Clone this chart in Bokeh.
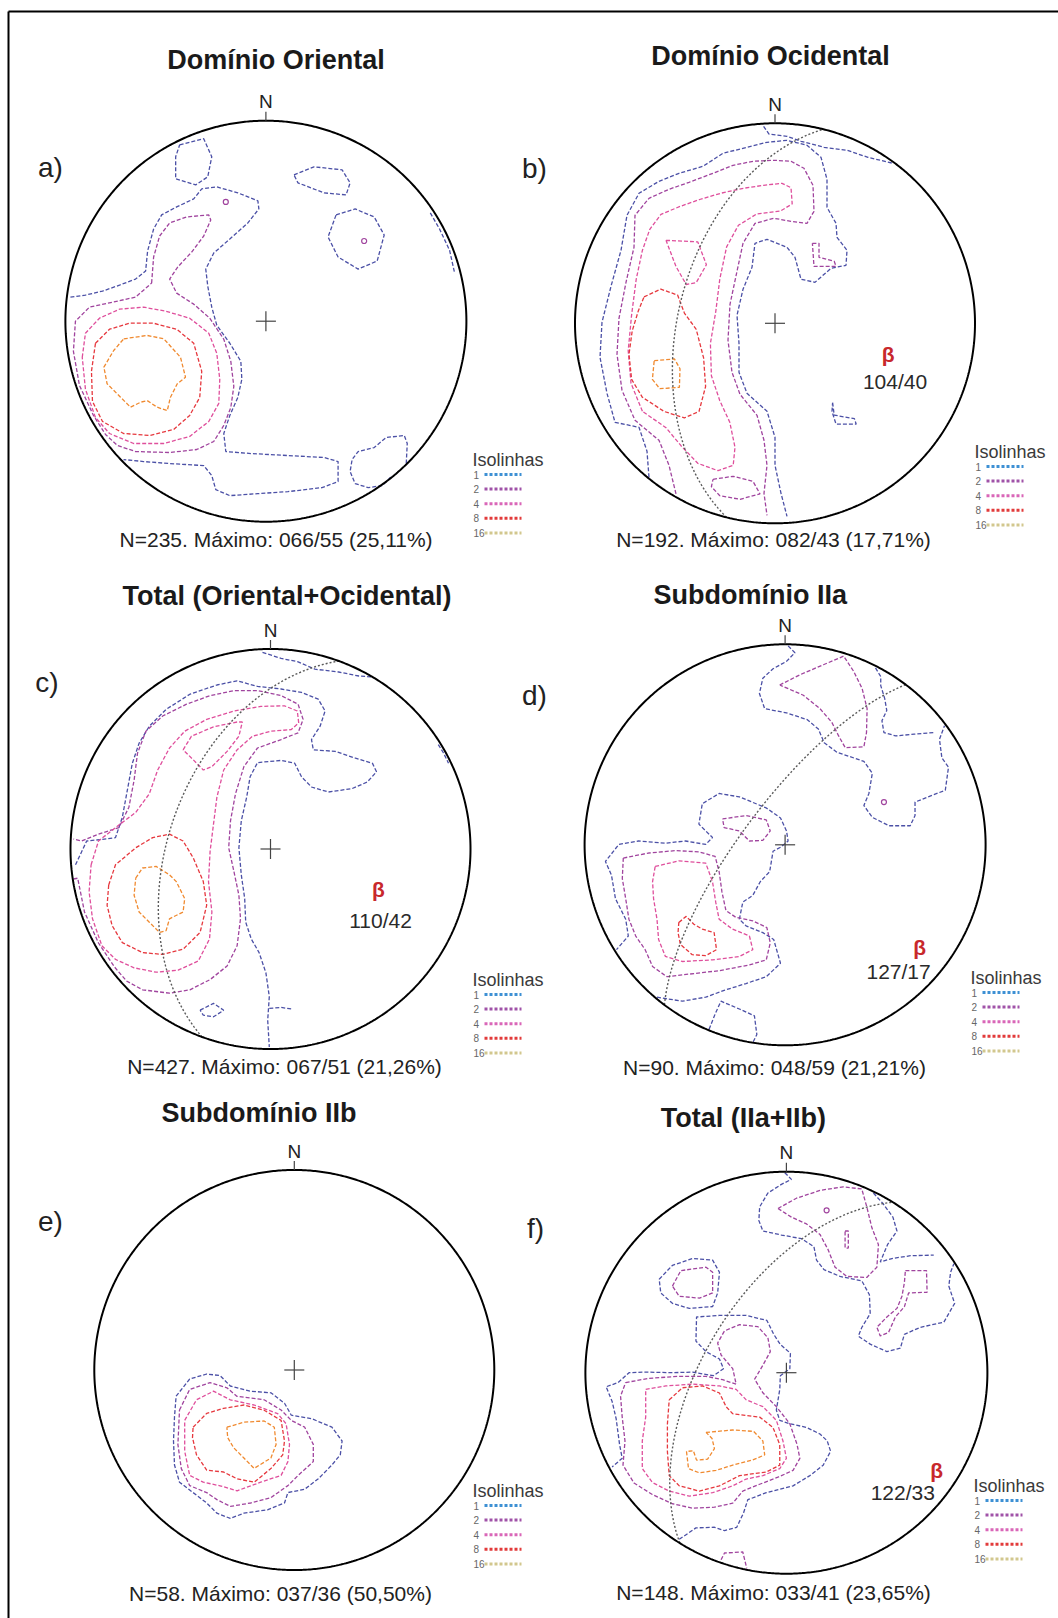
import numpy as np
from bokeh.plotting import figure
from bokeh.models import Range1d
from bokeh.embed import file_html
from bokeh.resources import INLINE
from bokeh.core.properties import value

W, H = 1058, 1618
FONT = value("Liberation Sans")

# ---------------------------------------------------------------- metadata
panel_ids = ["a", "b", "c", "d", "e", "f"]
panel_titles = ["Domínio Oriental", "Domínio Ocidental", "Total (Oriental+Ocidental)",
                "Subdomínio IIa", "Subdomínio IIb", "Total (IIa+IIb)"]
n_poles = [235, 192, 427, 90, 58, 148]
max_trend = [66, 82, 67, 48, 37, 33]
max_plunge = [55, 43, 51, 59, 36, 41]
max_percent = [25.11, 17.71, 21.26, 21.21, 50.50, 23.65]
beta_trend = [None, 104, 110, 127, None, 122]
beta_plunge = [None, 40, 42, 17, None, 33]

levels = [1, 2, 4, 8, 16]
contour_colors = {1: "#4b50a6", 2: "#a0449e", 4: "#df4f9c", 8: "#e6383e", 16: "#f08a30"}
legend_colors = {1: "#3d90d4", 2: "#a052a8", 4: "#d966b8", 8: "#e23b3b", 16: "#d2c78e"}

# ---------------------------------------------------------------- contours
# Each contour: (u, v) vertices on the unit equal-area net (u east, v north).
# Panel a
a_1_main = [(-0.975, 0.12), (-0.90, 0.13), (-0.815, 0.15), (-0.73, 0.18), (-0.65, 0.21), (-0.60, 0.25),
            (-0.59, 0.35), (-0.56, 0.46), (-0.52, 0.53), (-0.445, 0.57), (-0.36, 0.61), (-0.32, 0.66),
            (-0.245, 0.67), (-0.14, 0.64), (-0.04, 0.60), (-0.035, 0.56), (-0.09, 0.49), (-0.18, 0.41),
            (-0.26, 0.34), (-0.30, 0.26), (-0.29, 0.175), (-0.27, 0.07), (-0.245, -0.02), (-0.18, -0.11),
            (-0.125, -0.20), (-0.12, -0.29), (-0.14, -0.38), (-0.18, -0.47), (-0.21, -0.56), (-0.20, -0.65),
            (-0.075, -0.66), (0.11, -0.67), (0.29, -0.68), (0.36, -0.70), (0.36, -0.80), (0.28, -0.83),
            (0.11, -0.85), (-0.04, -0.86), (-0.18, -0.87), (-0.25, -0.84), (-0.27, -0.77), (-0.31, -0.72),
            (-0.48, -0.71), (-0.61, -0.70), (-0.71, -0.69)]
a_1_blob_nw = [(-0.43, 0.88), (-0.31, 0.91), (-0.27, 0.82), (-0.29, 0.72), (-0.35, 0.68), (-0.45, 0.71),
               (-0.45, 0.82)]
a_1_oval_n = [(0.14, 0.73), (0.24, 0.77), (0.38, 0.755), (0.42, 0.69), (0.40, 0.63), (0.29, 0.64), (0.16, 0.69)]
a_1_oct_ne = [(0.35, 0.53), (0.445, 0.56), (0.54, 0.52), (0.59, 0.43), (0.555, 0.30), (0.46, 0.26),
              (0.36, 0.32), (0.31, 0.42)]
a_1_se = [(0.70, -0.71), (0.705, -0.61), (0.69, -0.57), (0.60, -0.58), (0.54, -0.63), (0.46, -0.65),
          (0.43, -0.69), (0.42, -0.75), (0.445, -0.81), (0.51, -0.83), (0.58, -0.82), (0.63, -0.77)]
a_1_rim_e = [(0.82, 0.54), (0.866, 0.46), (0.916, 0.354), (0.94, 0.246)]
a_2_main = [(-0.57, 0.19), (-0.56, 0.32), (-0.53, 0.425), (-0.48, 0.49), (-0.395, 0.52), (-0.285, 0.53),
            (-0.275, 0.505), (-0.31, 0.425), (-0.37, 0.345), (-0.44, 0.27), (-0.48, 0.21), (-0.445, 0.14),
            (-0.36, 0.085), (-0.28, 0.015), (-0.21, -0.09), (-0.175, -0.20), (-0.16, -0.325),
            (-0.175, -0.43), (-0.21, -0.52), (-0.26, -0.60), (-0.345, -0.64), (-0.48, -0.655),
            (-0.65, -0.65), (-0.74, -0.62), (-0.80, -0.565), (-0.86, -0.47), (-0.93, -0.32), (-0.96, -0.15),
            (-0.95, 0.0), (-0.88, 0.07), (-0.765, 0.095), (-0.65, 0.12)]
a_2_spots = [(-0.20, 0.595), (0.49, 0.40)]
a_4 = [(-0.916, -0.18), (-0.90, -0.06), (-0.83, 0.015), (-0.73, 0.06), (-0.61, 0.07), (-0.50, 0.05),
       (-0.38, 0.015), (-0.285, -0.06), (-0.245, -0.16), (-0.23, -0.29), (-0.235, -0.41), (-0.285, -0.50),
       (-0.38, -0.575), (-0.51, -0.61), (-0.66, -0.61), (-0.78, -0.56), (-0.85, -0.48), (-0.90, -0.34)]
a_8 = [(-0.85, -0.11), (-0.78, -0.04), (-0.68, -0.01), (-0.56, -0.01), (-0.445, -0.04), (-0.36, -0.11),
       (-0.32, -0.25), (-0.33, -0.38), (-0.38, -0.47), (-0.46, -0.54), (-0.58, -0.57), (-0.71, -0.56),
       (-0.815, -0.50), (-0.865, -0.40), (-0.87, -0.25)]
a_16 = [(-0.709, -0.088), (-0.592, -0.071), (-0.509, -0.088), (-0.426, -0.18), (-0.401, -0.279),
        (-0.442, -0.312), (-0.476, -0.379), (-0.492, -0.446), (-0.542, -0.429), (-0.592, -0.396),
        (-0.625, -0.404), (-0.675, -0.429), (-0.725, -0.379), (-0.792, -0.312), (-0.808, -0.229),
        (-0.759, -0.146)]

# Panel b
b_1_main = [(-0.63, -0.77), (-0.64, -0.64), (-0.68, -0.52), (-0.80, -0.495), (-0.84, -0.35), (-0.875, -0.17),
            (-0.865, 0.005), (-0.82, 0.185), (-0.77, 0.365), (-0.74, 0.54), (-0.68, 0.65), (-0.58, 0.71),
            (-0.48, 0.75), (-0.36, 0.785), (-0.26, 0.85), (-0.14, 0.88), (-0.04, 0.905), (0.06, 0.915),
            (0.16, 0.89), (0.23, 0.83), (0.26, 0.72), (0.26, 0.58), (0.305, 0.50), (0.31, 0.43),
            (0.36, 0.365), (0.355, 0.29), (0.28, 0.275), (0.20, 0.205), (0.13, 0.22), (0.10, 0.33),
            (0.06, 0.38), (-0.04, 0.42), (-0.10, 0.40), (-0.115, 0.28), (-0.16, 0.17), (-0.19, 0.04),
            (-0.18, -0.10), (-0.18, -0.245), (-0.14, -0.35), (-0.04, -0.44), (0.0, -0.57), (0.0, -0.71),
            (0.03, -0.85), (0.06, -0.965)]
b_1_rim_n = [(-0.057, 0.985), (-0.03, 0.946), (0.06, 0.935), (0.13, 0.91), (0.245, 0.88), (0.36, 0.865),
             (0.465, 0.83), (0.59, 0.80)]
b_1_hook = [(0.288, -0.397), (0.296, -0.459), (0.397, -0.477), (0.406, -0.504), (0.305, -0.504),
            (0.285, -0.441)]
b_2_main = [(-0.495, -0.853), (-0.53, -0.71), (-0.58, -0.585), (-0.70, -0.485), (-0.765, -0.335),
            (-0.79, -0.155), (-0.78, 0.025), (-0.745, 0.205), (-0.705, 0.38), (-0.70, 0.54), (-0.63, 0.625),
            (-0.53, 0.67), (-0.43, 0.705), (-0.31, 0.75), (-0.21, 0.79), (-0.11, 0.81), (-0.005, 0.815),
            (0.08, 0.81), (0.145, 0.775), (0.19, 0.69), (0.195, 0.56), (0.16, 0.50), (0.08, 0.51),
            (-0.005, 0.525), (-0.10, 0.50), (-0.16, 0.40), (-0.19, 0.26), (-0.225, 0.095), (-0.235, -0.085),
            (-0.215, -0.245), (-0.175, -0.355), (-0.09, -0.46), (-0.055, -0.585), (-0.04, -0.71),
            (-0.055, -0.85), (-0.04, -0.96)]
b_2_hook = [(0.187, 0.40), (0.22, 0.40), (0.22, 0.33), (0.296, 0.31), (0.305, 0.285), (0.195, 0.285)]
b_2_loop_s = [(-0.31, -0.78), (-0.21, -0.765), (-0.11, -0.79), (-0.075, -0.853), (-0.175, -0.88),
              (-0.276, -0.862), (-0.318, -0.817)]
b_4_main = [(-0.663, -0.44), (-0.72, -0.30), (-0.734, -0.137), (-0.717, 0.042), (-0.694, 0.22),
            (-0.663, 0.365), (-0.626, 0.47), (-0.57, 0.545), (-0.478, 0.583), (-0.377, 0.619),
            (-0.268, 0.651), (-0.158, 0.675), (-0.057, 0.69), (0.035, 0.70), (0.08, 0.678), (0.086, 0.597),
            (0.027, 0.561), (-0.091, 0.547), (-0.183, 0.49), (-0.242, 0.382), (-0.276, 0.221),
            (-0.296, 0.06), (-0.323, -0.101), (-0.318, -0.262), (-0.276, -0.387), (-0.226, -0.495),
            (-0.20, -0.62), (-0.209, -0.71), (-0.285, -0.737), (-0.386, -0.70), (-0.47, -0.612),
            (-0.545, -0.522)]
b_4_hole = [(-0.545, 0.415), (-0.386, 0.407), (-0.343, 0.293), (-0.394, 0.203), (-0.444, 0.194),
            (-0.495, 0.284)]
b_8 = [(-0.655, 0.132), (-0.571, 0.171), (-0.487, 0.141), (-0.453, 0.051), (-0.394, -0.03), (-0.357, -0.173),
       (-0.347, -0.316), (-0.38, -0.441), (-0.453, -0.473), (-0.554, -0.441), (-0.663, -0.37),
       (-0.717, -0.28), (-0.73, -0.155), (-0.714, -0.038), (-0.684, 0.06)]
b_16 = [(-0.604, -0.187), (-0.503, -0.178), (-0.475, -0.227), (-0.478, -0.32), (-0.576, -0.327),
        (-0.613, -0.28)]

# Panel c
c_1_main = [(-0.975, -0.079), (-0.919, 0.04), (-0.843, 0.048), (-0.775, 0.057), (-0.741, 0.158),
            (-0.716, 0.293), (-0.691, 0.428), (-0.657, 0.529), (-0.606, 0.614), (-0.522, 0.698),
            (-0.403, 0.774), (-0.268, 0.82), (-0.167, 0.841), (-0.065, 0.813), (0.053, 0.80), (0.155, 0.783),
            (0.239, 0.749), (0.273, 0.69), (0.248, 0.614), (0.205, 0.547), (0.214, 0.496), (0.324, 0.488),
            (0.425, 0.454), (0.51, 0.428), (0.53, 0.386), (0.484, 0.335), (0.408, 0.302), (0.29, 0.285),
            (0.205, 0.31), (0.155, 0.361), (0.121, 0.429), (0.053, 0.443), (-0.065, 0.432), (-0.102, 0.361),
            (-0.119, 0.26), (-0.146, 0.141), (-0.158, 0.006), (-0.146, -0.129), (-0.129, -0.248),
            (-0.124, -0.366), (-0.096, -0.45), (-0.057, -0.518), (-0.023, -0.619), (-0.006, -0.738),
            (-0.014, -0.856), (-0.006, -0.99)]
c_1_rim_n = [(-0.04, 0.983), (0.053, 0.953), (0.138, 0.936), (0.222, 0.899), (0.341, 0.885), (0.442, 0.865),
             (0.51, 0.86)]
c_1_rim_e = [(0.839, 0.522), (0.865, 0.48), (0.89, 0.429)]
c_1_stub = [(-0.006, -0.797), (0.053, -0.792), (0.104, -0.80)]
c_1_loop_s = [(-0.352, -0.806), (-0.285, -0.772), (-0.234, -0.806), (-0.285, -0.839), (-0.336, -0.831)]
c_2_main = [(-0.985, -0.15), (-0.964, -0.146), (-0.93, -0.315), (-0.86, -0.47), (-0.78, -0.59),
            (-0.72, -0.66), (-0.64, -0.704), (-0.505, -0.721), (-0.403, -0.704), (-0.302, -0.653),
            (-0.217, -0.585), (-0.167, -0.484), (-0.15, -0.349), (-0.158, -0.231), (-0.183, -0.112),
            (-0.209, 0.006), (-0.2, 0.141), (-0.175, 0.276), (-0.133, 0.412), (-0.065, 0.505),
            (0.053, 0.547), (0.138, 0.581), (0.163, 0.648), (0.138, 0.724), (0.053, 0.767), (-0.065, 0.792),
            (-0.183, 0.792), (-0.302, 0.767), (-0.42, 0.724), (-0.539, 0.665), (-0.623, 0.589),
            (-0.665, 0.479), (-0.682, 0.344), (-0.708, 0.209), (-0.758, 0.107), (-0.86, 0.074),
            (-0.944, 0.04), (-0.985, 0.05)]
c_4_main = [(-0.897, -0.079), (-0.86, 0.04), (-0.775, 0.107), (-0.674, 0.183), (-0.606, 0.276),
            (-0.564, 0.395), (-0.505, 0.505), (-0.429, 0.589), (-0.319, 0.648), (-0.183, 0.69),
            (-0.048, 0.713), (0.07, 0.716), (0.134, 0.69), (0.141, 0.631), (0.104, 0.597), (0.003, 0.589),
            (-0.09, 0.564), (-0.167, 0.496), (-0.234, 0.395), (-0.268, 0.259), (-0.285, 0.124),
            (-0.302, -0.011), (-0.31, -0.163), (-0.293, -0.315), (-0.305, -0.45), (-0.361, -0.56),
            (-0.462, -0.606), (-0.572, -0.616), (-0.682, -0.594), (-0.775, -0.552), (-0.843, -0.484),
            (-0.89, -0.349), (-0.907, -0.214)]
c_4_wedge = [(-0.437, 0.496), (-0.395, 0.564), (-0.285, 0.611), (-0.167, 0.635), (-0.141, 0.635),
             (-0.158, 0.564), (-0.217, 0.488), (-0.293, 0.412), (-0.336, 0.395), (-0.386, 0.446)]
c_8 = [(-0.809, -0.18), (-0.775, -0.079), (-0.674, 0.006), (-0.589, 0.057), (-0.505, 0.074), (-0.437, 0.04),
       (-0.386, -0.045), (-0.336, -0.163), (-0.319, -0.281), (-0.352, -0.417), (-0.437, -0.501),
       (-0.539, -0.527), (-0.64, -0.518), (-0.741, -0.468), (-0.792, -0.383), (-0.817, -0.282)]
c_16 = [(-0.674, -0.146), (-0.64, -0.095), (-0.572, -0.087), (-0.505, -0.129), (-0.471, -0.163),
        (-0.429, -0.248), (-0.437, -0.315), (-0.505, -0.349), (-0.522, -0.408), (-0.555, -0.417),
        (-0.606, -0.366), (-0.657, -0.315), (-0.682, -0.231)]

# Panel d
d_1_north = [(0.015, 0.992), (0.049, 0.958), (0.007, 0.915), (-0.06, 0.878), (-0.111, 0.831), (-0.128, 0.755),
             (-0.102, 0.679), (0.007, 0.658), (0.111, 0.624), (0.166, 0.577), (0.195, 0.509), (0.258, 0.462),
             (0.393, 0.416), (0.435, 0.357), (0.418, 0.256), (0.393, 0.196), (0.435, 0.137), (0.518, 0.095),
             (0.624, 0.095), (0.648, 0.146), (0.648, 0.213), (0.72, 0.242), (0.799, 0.272), (0.815, 0.387),
             (0.782, 0.433), (0.77, 0.526), (0.795, 0.594)]
d_1_inner = [(0.451, 0.882), (0.477, 0.839), (0.477, 0.794), (0.497, 0.729), (0.507, 0.67), (0.483, 0.619),
             (0.493, 0.56), (0.552, 0.543), (0.644, 0.552), (0.745, 0.56)]
d_1_main = [(-0.639, -0.76), (-0.513, -0.78), (-0.396, -0.76), (-0.304, -0.726), (-0.195, -0.692),
            (-0.094, -0.658), (-0.023, -0.591), (-0.057, -0.472), (-0.111, -0.438), (-0.195, -0.404),
            (-0.228, -0.371), (-0.211, -0.286), (-0.161, -0.252), (-0.124, -0.184), (-0.077, -0.134),
            (-0.06, -0.032), (-0.023, -0.012), (0.015, 0.019), (0.007, 0.069), (-0.023, 0.134),
            (-0.094, 0.184), (-0.228, 0.239), (-0.329, 0.256), (-0.413, 0.205), (-0.43, 0.103),
            (-0.362, 0.036), (-0.396, 0.002), (-0.497, 0.019), (-0.597, 0.008), (-0.732, 0.019),
            (-0.829, 0.002), (-0.896, -0.083), (-0.866, -0.151), (-0.846, -0.269), (-0.795, -0.371),
            (-0.782, -0.455), (-0.841, -0.523)]
d_1_south = [(-0.379, -0.92), (-0.349, -0.844), (-0.32, -0.78), (-0.228, -0.819), (-0.153, -0.853),
             (-0.141, -0.946), (-0.16, -0.985)]
d_2_north = [(-0.027, 0.797), (0.074, 0.848), (0.191, 0.898), (0.292, 0.941), (0.342, 0.865), (0.384, 0.78),
             (0.409, 0.679), (0.406, 0.56), (0.393, 0.489), (0.30, 0.484), (0.267, 0.543), (0.233, 0.611),
             (0.174, 0.679), (0.091, 0.746)]
d_2_spots = [(0.493, 0.213)]
d_2_center = [(-0.312, 0.129), (-0.195, 0.146), (-0.094, 0.124), (-0.074, 0.069), (-0.111, 0.022),
              (-0.178, 0.019), (-0.228, 0.069), (-0.304, 0.086)]
d_2_main = [(-0.807, -0.066), (-0.681, -0.041), (-0.547, -0.029), (-0.43, -0.035), (-0.349, -0.058),
            (-0.329, -0.134), (-0.315, -0.235), (-0.295, -0.328), (-0.245, -0.362), (-0.161, -0.379),
            (-0.091, -0.413), (-0.074, -0.489), (-0.094, -0.574), (-0.178, -0.599), (-0.329, -0.628),
            (-0.48, -0.645), (-0.589, -0.658), (-0.661, -0.607), (-0.698, -0.523), (-0.745, -0.455),
            (-0.779, -0.371), (-0.795, -0.269), (-0.812, -0.168)]
d_4 = [(-0.648, -0.108), (-0.53, -0.08), (-0.396, -0.091), (-0.362, -0.184), (-0.346, -0.286),
       (-0.329, -0.371), (-0.262, -0.421), (-0.178, -0.455), (-0.161, -0.523), (-0.228, -0.557),
       (-0.362, -0.574), (-0.513, -0.582), (-0.597, -0.557), (-0.631, -0.472), (-0.639, -0.371),
       (-0.656, -0.269), (-0.661, -0.184)]
d_8 = [(-0.53, -0.387), (-0.493, -0.357), (-0.455, -0.396), (-0.413, -0.421), (-0.354, -0.438),
       (-0.342, -0.523), (-0.396, -0.553), (-0.463, -0.548), (-0.522, -0.497), (-0.534, -0.438)]

# Panel e
e_1 = [(-0.591, -0.131), (-0.523, -0.045), (-0.438, -0.02), (-0.371, -0.028), (-0.32, -0.08), (-0.218, -0.106),
       (-0.117, -0.114), (-0.049, -0.166), (-0.015, -0.226), (0.086, -0.243), (0.188, -0.286), (0.239, -0.355),
       (0.23, -0.424), (0.188, -0.475), (0.12, -0.544), (0.052, -0.596), (-0.032, -0.613), (-0.049, -0.665),
       (-0.134, -0.699), (-0.252, -0.716), (-0.32, -0.742), (-0.387, -0.716), (-0.438, -0.665),
       (-0.506, -0.613), (-0.574, -0.561), (-0.599, -0.475), (-0.604, -0.355), (-0.599, -0.235)]
e_2 = [(-0.574, -0.2), (-0.523, -0.097), (-0.421, -0.063), (-0.337, -0.089), (-0.286, -0.132), (-0.151, -0.149),
       (-0.066, -0.2), (-0.015, -0.252), (0.052, -0.286), (0.095, -0.372), (0.095, -0.458), (0.019, -0.527),
       (-0.032, -0.578), (-0.117, -0.638), (-0.218, -0.665), (-0.32, -0.682), (-0.387, -0.648),
       (-0.438, -0.613), (-0.523, -0.578), (-0.565, -0.493), (-0.582, -0.372)]
e_4 = [(-0.548, -0.252), (-0.489, -0.149), (-0.404, -0.106), (-0.32, -0.149), (-0.201, -0.175), (-0.083, -0.218),
       (-0.041, -0.269), (-0.024, -0.372), (-0.032, -0.458), (-0.066, -0.527), (-0.168, -0.561),
       (-0.286, -0.604), (-0.371, -0.579), (-0.455, -0.561), (-0.523, -0.527), (-0.548, -0.406)]
e_8 = [(-0.506, -0.286), (-0.438, -0.217), (-0.354, -0.192), (-0.252, -0.175), (-0.151, -0.201), (-0.066, -0.252),
       (-0.049, -0.355), (-0.058, -0.424), (-0.117, -0.493), (-0.201, -0.561), (-0.286, -0.544),
       (-0.354, -0.51), (-0.438, -0.501), (-0.489, -0.424), (-0.509, -0.338)]
e_16 = [(-0.337, -0.286), (-0.252, -0.261), (-0.151, -0.255), (-0.1, -0.286), (-0.091, -0.372), (-0.117, -0.44),
        (-0.201, -0.492), (-0.252, -0.44), (-0.303, -0.389), (-0.333, -0.338)]

# Panel f
f_1_north = [(-0.008, 0.995), (0.025, 0.962), (-0.025, 0.937), (-0.092, 0.894), (-0.133, 0.825), (-0.137, 0.757),
             (-0.117, 0.705), (-0.025, 0.685), (0.075, 0.667), (0.137, 0.627), (0.15, 0.56), (0.187, 0.513),
             (0.267, 0.479), (0.375, 0.457), (0.413, 0.388), (0.417, 0.294), (0.375, 0.225), (0.358, 0.182),
             (0.417, 0.142), (0.5, 0.105), (0.567, 0.122), (0.587, 0.191), (0.667, 0.226), (0.783, 0.251),
             (0.837, 0.345), (0.808, 0.431), (0.817, 0.5), (0.833, 0.542)]
f_1_inner = [(0.433, 0.894), (0.48, 0.842), (0.53, 0.774), (0.55, 0.705), (0.503, 0.637), (0.467, 0.551),
             (0.525, 0.568), (0.617, 0.582), (0.733, 0.585)]
f_2_north = [(-0.042, 0.817), (0.05, 0.868), (0.167, 0.907), (0.283, 0.925), (0.375, 0.914), (0.4, 0.825),
             (0.425, 0.722), (0.458, 0.637), (0.45, 0.525), (0.4, 0.474), (0.3, 0.479), (0.242, 0.525),
             (0.208, 0.611), (0.167, 0.688), (0.1, 0.74), (0.025, 0.774)]
f_2_spots = [(0.2, 0.808)]
f_2_bar = [(0.292, 0.705), (0.308, 0.705), (0.308, 0.62), (0.292, 0.62)]
f_2_square = [(0.592, 0.508), (0.697, 0.508), (0.7, 0.4), (0.608, 0.397), (0.587, 0.328), (0.542, 0.277),
              (0.508, 0.2), (0.467, 0.183), (0.45, 0.226), (0.5, 0.277), (0.55, 0.32), (0.575, 0.38),
              (0.587, 0.448)]
f_1_blob_w = [(-0.633, 0.465), (-0.567, 0.534), (-0.467, 0.568), (-0.367, 0.56), (-0.333, 0.5), (-0.342, 0.397),
              (-0.367, 0.329), (-0.483, 0.32), (-0.567, 0.345), (-0.625, 0.397)]
f_2_blob_w = [(-0.567, 0.431), (-0.525, 0.508), (-0.4, 0.525), (-0.367, 0.5), (-0.367, 0.397), (-0.433, 0.371),
              (-0.533, 0.38)]
f_1_main = [(-0.533, -0.829), (-0.45, -0.772), (-0.358, -0.769), (-0.308, -0.786), (-0.247, -0.769),
            (-0.213, -0.697), (-0.192, -0.632), (-0.1, -0.597), (0.033, -0.563), (0.117, -0.512),
            (0.183, -0.46), (0.22, -0.391), (0.203, -0.339), (0.167, -0.305), (0.1, -0.272), (0.017, -0.254),
            (-0.033, -0.237), (-0.05, -0.186), (-0.033, -0.083), (-0.03, -0.015), (0.017, 0.02), (0.02, 0.097),
            (-0.03, 0.14), (-0.063, 0.191), (-0.097, 0.26), (-0.2, 0.285), (-0.333, 0.285), (-0.447, 0.277),
            (-0.45, 0.157), (-0.4, 0.105), (-0.333, 0.068), (-0.313, 0.02), (-0.363, -0.015), (-0.467, 0.003),
            (-0.567, 0.0), (-0.7, 0.003), (-0.783, 0.0), (-0.837, -0.049), (-0.897, -0.07), (-0.867, -0.143),
            (-0.847, -0.229), (-0.83, -0.357), (-0.817, -0.426), (-0.867, -0.469)]
f_2_south = [(-0.325, -0.931), (-0.308, -0.897), (-0.217, -0.892), (-0.197, -0.974)]
f_2_main = [(-0.8, -0.049), (-0.683, -0.028), (-0.533, -0.018), (-0.4, -0.018), (-0.317, -0.035), (-0.25, -0.057),
            (-0.267, 0.02), (-0.325, 0.088), (-0.342, 0.148), (-0.308, 0.208), (-0.233, 0.239), (-0.142, 0.229),
            (-0.092, 0.174), (-0.08, 0.105), (-0.117, 0.037), (-0.158, -0.032), (-0.117, -0.1), (-0.05, -0.169),
            (0.017, -0.254), (0.053, -0.357), (0.067, -0.426), (0.033, -0.486), (-0.042, -0.52),
            (-0.133, -0.555), (-0.217, -0.589), (-0.267, -0.649), (-0.358, -0.669), (-0.467, -0.674),
            (-0.567, -0.652), (-0.667, -0.606), (-0.758, -0.549), (-0.813, -0.46), (-0.803, -0.34),
            (-0.817, -0.22), (-0.825, -0.117)]
f_4 = [(-0.7, -0.083), (-0.6, -0.066), (-0.467, -0.057), (-0.333, -0.066), (-0.25, -0.083), (-0.2, -0.135),
       (-0.117, -0.169), (-0.05, -0.237), (-0.017, -0.34), (0.0, -0.426), (-0.033, -0.477), (-0.117, -0.512),
       (-0.2, -0.529), (-0.267, -0.563), (-0.367, -0.597), (-0.483, -0.614), (-0.583, -0.589), (-0.667, -0.546),
       (-0.717, -0.477), (-0.717, -0.34), (-0.7, -0.22), (-0.7, -0.135)]
f_8 = [(-0.583, -0.135), (-0.517, -0.075), (-0.417, -0.066), (-0.333, -0.101), (-0.3, -0.169), (-0.267, -0.204),
       (-0.133, -0.221), (-0.067, -0.272), (-0.033, -0.358), (-0.033, -0.46), (-0.1, -0.494), (-0.233, -0.512),
       (-0.333, -0.563), (-0.433, -0.589), (-0.533, -0.563), (-0.583, -0.512), (-0.592, -0.392),
       (-0.592, -0.255)]
f_16 = [(-0.4, -0.297), (-0.267, -0.285), (-0.163, -0.292), (-0.117, -0.34), (-0.108, -0.409), (-0.167, -0.434),
        (-0.267, -0.46), (-0.35, -0.486), (-0.433, -0.498), (-0.487, -0.477), (-0.497, -0.392),
        (-0.463, -0.388), (-0.447, -0.435), (-0.392, -0.43), (-0.358, -0.378), (-0.37, -0.327)]

# (level, vertices, closed)
contours = {
    "a": [(1, a_1_main, False), (1, a_1_blob_nw, True), (1, a_1_oval_n, True), (1, a_1_oct_ne, True),
          (1, a_1_se, False), (1, a_1_rim_e, False), (2, a_2_main, True), (4, a_4, True), (8, a_8, True),
          (16, a_16, True)],
    "b": [(1, b_1_main, False), (1, b_1_rim_n, False), (1, b_1_hook, True), (2, b_2_main, False),
          (2, b_2_hook, True), (2, b_2_loop_s, True), (4, b_4_main, True), (4, b_4_hole, True),
          (8, b_8, True), (16, b_16, True)],
    "c": [(1, c_1_main, False), (1, c_1_rim_n, False), (1, c_1_rim_e, False), (1, c_1_stub, False),
          (1, c_1_loop_s, True), (2, c_2_main, False), (4, c_4_main, True), (4, c_4_wedge, True),
          (8, c_8, True), (16, c_16, True)],
    "d": [(1, d_1_north, False), (1, d_1_inner, False), (1, d_1_main, False), (1, d_1_south, False),
          (2, d_2_north, True), (2, d_2_center, True), (2, d_2_main, True), (4, d_4, True), (8, d_8, True)],
    "e": [(1, e_1, True), (2, e_2, True), (4, e_4, True), (8, e_8, True), (16, e_16, True)],
    "f": [(1, f_1_north, False), (1, f_1_inner, False), (1, f_1_blob_w, True), (1, f_1_main, False),
          (2, f_2_north, True), (2, f_2_bar, True), (2, f_2_square, True), (2, f_2_blob_w, True),
          (2, f_2_south, False), (2, f_2_main, True), (4, f_4, True), (8, f_8, True), (16, f_16, True)],
}
spots = {"a": a_2_spots, "d": d_2_spots, "f": f_2_spots}

# ---------------------------------------------------------------- page layout (pixels)
layout = {
    "a": dict(cx=265.4, cy=320.7, r=200.5, title=(275.5, 59), letter=(50, 167), caption=(275.6, 539),
              legend=(472, 459), beta=None),
    "b": dict(cx=774.5, cy=322.8, r=200.0, title=(770, 55.5), letter=(534, 168), caption=(773, 539),
              legend=(974, 451), beta=((0.566, -0.155), (0.60, -0.29))),
    "c": dict(cx=270.0, cy=848.5, r=200.0, title=(286.5, 595.5), letter=(46.5, 682), caption=(284, 1066),
              legend=(472, 979), beta=((0.54, -0.203), (0.55, -0.355))),
    "d": dict(cx=784.6, cy=844.3, r=200.5, title=(749.7, 594), letter=(534, 695), caption=(774, 1067),
              legend=(970, 977), beta=((0.671, -0.51), (0.566, -0.63))),
    "e": dict(cx=293.8, cy=1369.5, r=200.0, title=(258.6, 1112.6), letter=(50, 1221), caption=(280, 1593),
              legend=(472, 1490), beta=None),
    "f": dict(cx=785.9, cy=1372.2, r=201.0, title=(742.8, 1117.7), letter=(535, 1228), caption=(773, 1591.5),
              legend=(973, 1485), beta=((0.748, -0.485), (0.579, -0.597))),
}


def girdle(trend, plunge, n=181):
    """Great circle (equal-area, lower hemisphere) whose pole is the given axis."""
    dd = np.radians(trend + 180.0)
    dip = np.radians(90.0 - plunge)
    strike = dd - np.pi / 2
    s = np.array([np.sin(strike), np.cos(strike), 0.0])
    d = np.array([np.sin(dd) * np.cos(dip), np.cos(dd) * np.cos(dip), np.sin(dip)])
    t = np.linspace(0, np.pi, n)
    vec = np.outer(np.cos(t), s) + np.outer(np.sin(t), d)
    pl = np.arcsin(np.clip(vec[:, 2], -1, 1))
    tr = np.arctan2(vec[:, 0], vec[:, 1])
    rr = np.sqrt(2) * np.sin((np.pi / 2 - pl) / 2)
    return rr * np.sin(tr), rr * np.cos(tr)


# ---------------------------------------------------------------- figure
extra_x = {}
extra_y = {}
for k in panel_ids:
    L = layout[k]
    extra_x[k + "x"] = Range1d(-L["cx"] / L["r"], (W - L["cx"]) / L["r"])
    extra_y[k + "y"] = Range1d((L["cy"] - H) / L["r"], L["cy"] / L["r"])

p = figure(width=W, height=H, x_range=Range1d(0, W), y_range=Range1d(H, 0),
           x_axis_type=None, y_axis_type=None, toolbar_location=None, output_backend="svg",
           min_border=0, outline_line_color=None, background_fill_color="white",
           border_fill_color="white")
p.extra_x_ranges = extra_x
p.extra_y_ranges = extra_y
p.grid.visible = False

# page frame (top and left rules)
p.line([8, W], [11, 11], line_color="black", line_width=2)
p.line([8, 8], [11, H], line_color="black", line_width=2)

theta = np.linspace(0, 2 * np.pi, 721)

for i, k in enumerate(panel_ids):
    L = layout[k]
    rx, ry = k + "x", k + "y"
    kw = dict(x_range_name=rx, y_range_name=ry)

    # contours
    for lvl, pts, closed in contours[k]:
        xs = [q[0] for q in pts]
        ys = [q[1] for q in pts]
        if closed:
            xs.append(xs[0])
            ys.append(ys[0])
        p.line(xs, ys, line_color=contour_colors[lvl], line_width=1.3, line_dash="4 2", **kw)
    if k in spots:
        p.scatter([q[0] for q in spots[k]], [q[1] for q in spots[k]], marker="circle", size=5,
                  fill_color=None, line_color=contour_colors[2], line_width=1.2, **kw)

    # beta girdle
    if beta_trend[i] is not None:
        gx, gy = girdle(beta_trend[i], beta_plunge[i])
        p.line(gx, gy, line_color="#5a5a5a", line_width=1.4, line_dash="2 2", **kw)

    # primitive circle, centre cross, north tick
    p.line(np.cos(theta), np.sin(theta), line_color="black", line_width=2, **kw)
    p.segment(x0=[-0.05, 0], y0=[0, -0.05], x1=[0.05, 0], y1=[0, 0.05], line_color="#444444",
              line_width=1.2, **kw)
    p.segment(x0=[0], y0=[1.0], x1=[0], y1=[1.045], line_color="#444444", line_width=1.2, **kw)
    p.text([0], [1.095], ["N"], text_font=FONT, text_font_size="19px", text_color="#222222",
           text_align="center", text_baseline="middle", **kw)

    # beta label
    if L["beta"] is not None:
        (bu, bv), (tu, tv) = L["beta"]
        p.text([bu], [bv], ["β"], text_font=FONT, text_font_size="21px", text_font_style="bold",
               text_color="#c8282c", text_align="center", text_baseline="middle", **kw)
        p.text([tu], [tv], [f"{beta_trend[i]:03d}/{beta_plunge[i]:02d}"], text_font=FONT,
               text_font_size="21px", text_color="#2a2a2a", text_align="center", text_baseline="middle", **kw)

    # title, panel letter, caption
    tx, ty = L["title"]
    p.text([tx], [ty], [panel_titles[i]], text_font=FONT, text_font_size="27px", text_font_style="bold",
           text_color="#1a1a1a", text_align="center", text_baseline="middle")
    lx, ly = L["letter"]
    p.text([lx], [ly], [k + ")"], text_font=FONT, text_font_size="28px", text_color="#222222",
           text_align="center", text_baseline="middle")
    pct = f"{max_percent[i]:.2f}".replace(".", ",")
    cap = f"N={n_poles[i]}. Máximo: {max_trend[i]:03d}/{max_plunge[i]:02d} ({pct}%)"
    cx_, cy_ = L["caption"]
    p.text([cx_], [cy_], [cap], text_font=FONT, text_font_size="21px", text_color="#222222",
           text_align="center", text_baseline="middle")

    # legend
    x0, y0 = L["legend"]
    p.text([x0], [y0], ["Isolinhas"], text_font=FONT, text_font_size="18px", text_color="#3a3a3a",
           text_align="left", text_baseline="middle")
    for j, lvl in enumerate(levels):
        yy = y0 + 15 + 14.6 * j
        p.text([x0 + 1], [yy], [str(lvl)], text_font=FONT, text_font_size="10px", text_color="#666666",
               text_align="left", text_baseline="middle")
        p.line([x0 + 12, x0 + 49], [yy, yy], line_color=legend_colors[lvl], line_width=3, line_dash="3 2")

open("out.html", "w").write(file_html(p, INLINE))
